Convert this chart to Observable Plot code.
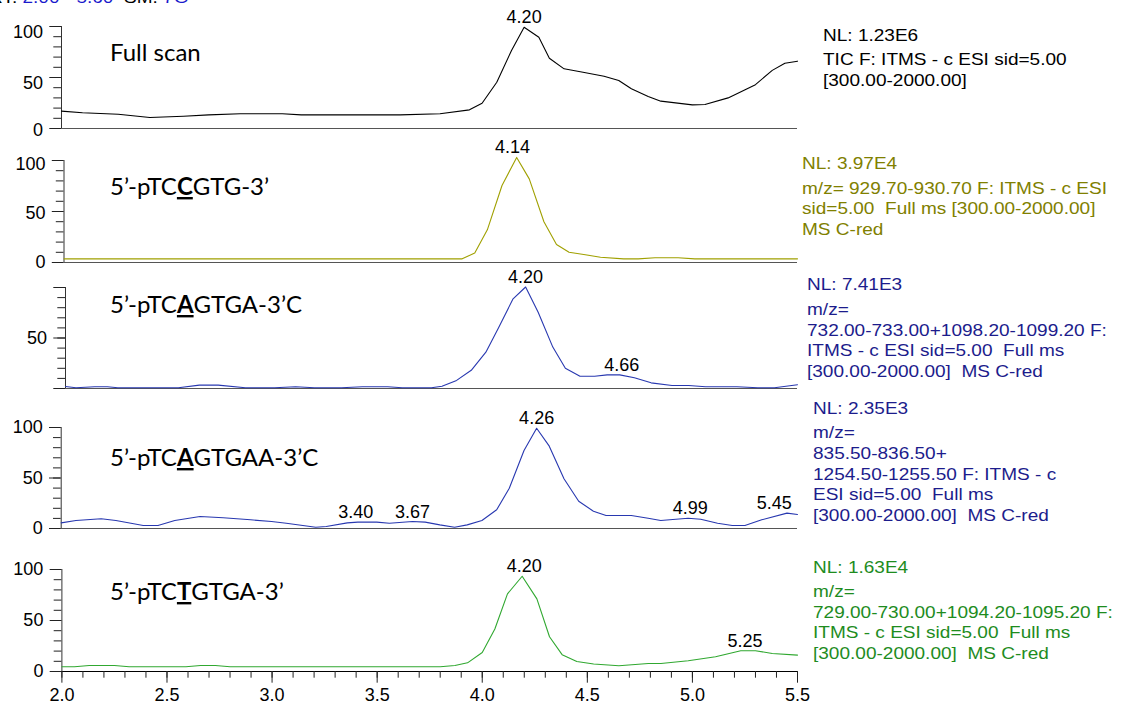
<!DOCTYPE html>
<html><head><meta charset="utf-8">
<script src="https://cdn.jsdelivr.net/npm/d3@7"></script>
<script src="https://cdn.jsdelivr.net/npm/@observablehq/plot@0.6"></script>
<style>
html,body{margin:0;padding:0;background:#fff;overflow:hidden}
#wrap{position:relative;width:1121px;height:707px;overflow:hidden;background:#fff}
#wrap svg{position:absolute;left:0;overflow:visible}
</style></head><body><div id="wrap"></div>
<script>
// ---------- data ----------
const p1Time  = [2.00,2.10,2.27,2.42,2.58,2.70,2.85,3.05,3.14,3.61,3.80,3.94,4.00,4.07,4.14,4.20,4.27,4.32,4.39,4.48,4.58,4.65,4.71,4.79,4.85,5.00,5.06,5.17,5.30,5.38,5.44,5.50];
const p1Value = [17,15.4,14,10.8,12,13.4,14.4,14.4,13.4,13.4,14.4,18.3,24.8,45.4,76.5,99.3,89.5,68.9,58.5,55.2,51.3,47,38.9,31.4,26.8,23.2,23.5,30,43,57,64,66];

const p2Time  = [2.00,3.90,3.96,4.02,4.09,4.16,4.22,4.29,4.35,4.41,4.48,4.56,4.67,4.74,4.82,4.93,5.01,5.50];
const p2Value = [3.6,3.6,9.3,32,75.5,103,82,40,17.6,10.1,7.8,5.2,3.6,3.6,4.6,4.6,3.6,3.6];

const p3Time  = [2.00,2.05,2.14,2.20,2.25,2.54,2.64,2.73,2.86,3.00,3.10,3.19,3.32,3.42,3.54,3.61,3.75,3.80,3.87,3.94,4.01,4.07,4.14,4.20,4.26,4.33,4.39,4.46,4.53,4.59,4.65,4.72,4.80,4.90,4.98,5.06,5.21,5.31,5.39,5.50];
const p3Value = [2.0,0.7,1.7,1.7,0.7,0.7,3.3,3.3,0.7,0.7,1.7,0.7,0.7,1.7,1.7,0.7,0.7,2.2,8,18,36,60,88.8,100.5,75.5,41,20,12.2,12.2,13.5,13.5,10.6,5.6,3,3,1.7,1.7,0.7,0.7,3.7];

const p4Time  = [2.00,2.07,2.19,2.26,2.39,2.46,2.54,2.66,2.77,2.90,3.00,3.07,3.21,3.26,3.36,3.41,3.50,3.56,3.67,3.73,3.80,3.87,3.93,4.00,4.07,4.13,4.20,4.26,4.32,4.39,4.46,4.53,4.59,4.71,4.79,4.85,4.98,5.04,5.12,5.19,5.25,5.33,5.45,5.50];
const p4Value = [5.6,7.9,9.6,7.9,3,3,7.9,11.9,10.6,8.6,6.9,5.2,1.3,2,5.6,6.3,6.3,5.2,6.9,6.3,3.6,1.3,3.6,7.9,18.5,39.9,77.2,99.3,81.5,49.2,27,17.1,12.9,12.9,10.2,7.9,10.2,9.2,5.2,3,3,8.6,15.2,13.9];

const p5Time  = [2.00,2.06,2.13,2.25,2.32,2.59,2.66,2.73,2.80,3.80,3.87,3.93,4.00,4.06,4.12,4.19,4.26,4.32,4.38,4.45,4.53,4.65,4.79,4.85,4.98,5.11,5.23,5.30,5.38,5.50];
const p5Value = [4.6,4.6,5.9,5.9,4.6,4.6,5.9,5.9,4.6,4.6,5.9,8.5,18.7,41.7,76.1,93.4,71.2,34.1,16.5,9.8,7.3,5.6,7.9,7.9,10.5,14.5,20.4,20.4,17.7,16.1];

// peak annotations
const p1PeakX = [4.20], p1PeakY = [99.3], p1PeakText = ["4.20"];
const p2PeakX = [4.14], p2PeakY = [103],  p2PeakText = ["4.14"];
const p3PeakX = [4.20, 4.66], p3PeakY = [100.5, 13.5], p3PeakText = ["4.20", "4.66"];
const p4PeakX = [3.40, 3.67, 4.26, 4.99, 5.39], p4PeakY = [6.3, 6.9, 99.3, 10.2, 15.2], p4PeakText = ["3.40", "3.67", "4.26", "4.99", "5.45"];
const p5PeakX = [4.20, 5.25], p5PeakY = [93.4, 20.4], p5PeakText = ["4.20", "5.25"];

// axis ticks
const yMinorTicks = [0,10,20,30,40,50,60,70,80,90,100];
const yMajorTicks = [0,50,100];
const xMinorTicks = [2.0,2.1,2.2,2.3,2.4,2.5,2.6,2.7,2.8,2.9,3.0,3.1,3.2,3.3,3.4,3.5,3.6,3.7,3.8,3.9,4.0,4.1,4.2,4.3,4.4,4.5,4.6,4.7,4.8,4.9,5.0,5.1,5.2,5.3,5.4,5.5];
const xMajorTicks = [2.0,2.5,3.0,3.5,4.0,4.5,5.0,5.5];
const xTickLabels = ["2.0","2.5","3.0","3.5","4.0","4.5","5.0","5.5"];

// panel texts
const labelPre  = ["Full scan", "5’-pTC", "5’-pTC", "5’-pTC", "5’-pTC"];
const labelKey  = ["", "C", "A", "A", "T"];
const labelPost = ["", "GTG-3’", "GTGA-3’C", "GTGAA-3’C", "GTGA-3’"];

const info1 = ["NL: 1.23E6", "TIC F: ITMS - c ESI sid=5.00", "[300.00-2000.00]"];
const info2 = ["NL: 3.97E4", "m/z= 929.70-930.70 F: ITMS - c ESI", "sid=5.00  Full ms [300.00-2000.00]", "MS C-red"];
const info3 = ["NL: 7.41E3", "m/z=", "732.00-733.00+1098.20-1099.20 F:", "ITMS - c ESI sid=5.00  Full ms", "[300.00-2000.00]  MS C-red"];
const info4 = ["NL: 2.35E3", "m/z=", "835.50-836.50+", "1254.50-1255.50 F: ITMS - c", "ESI sid=5.00  Full ms", "[300.00-2000.00]  MS C-red"];
const info5 = ["NL: 1.63E4", "m/z=", "729.00-730.00+1094.20-1095.20 F:", "ITMS - c ESI sid=5.00  Full ms", "[300.00-2000.00]  MS C-red"];

// ---------- layout / style ----------
const FONT = "'Liberation Sans', Arial, Helvetica, sans-serif";
const panels = [
  {time:p1Time, value:p1Value, px:p1PeakX, py:p1PeakY, pt:p1PeakText, line:"#000000", text:"#000000", axisX:61,   y100:26,  y0:128, yShow:[0,50,100], yOff:[1.3,5.5,5.5], xAxis:false, info:info1, infoX:823, infoY:40.7},
  {time:p2Time, value:p2Value, px:p2PeakX, py:p2PeakY, pt:p2PeakText, line:"#a0a000", text:"#808000", axisX:63.5, y100:160, y0:262, yShow:[0,50,100], yOff:[0,2,4],   xAxis:false, info:info2, infoX:802, infoY:169.3},
  {time:p3Time, value:p3Value, px:p3PeakX, py:p3PeakY, pt:p3PeakText, line:"#2838b0", text:"#1c1c8c", axisX:65,   y100:287, y0:388, yShow:[50],       yOff:[0],       xAxis:false, info:info3, infoX:807, infoY:290.5},
  {time:p4Time, value:p4Value, px:p4PeakX, py:p4PeakY, pt:p4PeakText, line:"#2838b0", text:"#1c1c8c", axisX:60.7, y100:427, y0:528, yShow:[0,50,100], yOff:[0,0,0],   xAxis:false, info:info4, infoX:813, infoY:414},
  {time:p5Time, value:p5Value, px:p5PeakX, py:p5PeakY, pt:p5PeakText, line:"#30a830", text:"#1e8c1e", axisX:61.4, y100:569, y0:671, yShow:[0,50,100], yOff:[0,0,0],   xAxis:true,  info:info5, infoX:813, infoY:572.7}
];
const labelBase = [61, 195, 313, 466, 600];

const wrap = document.getElementById("wrap");
const W = 820, RIGHT = 797;

panels.forEach((p) => {
  const mt = 30, mb = p.xAxis ? 40 : 6;
  const h = mt + (p.y0 - p.y100) + mb;
  const data = p.time.map((t, i) => ({t, v: p.value[i]}));
  const peaks = p.px.map((t, i) => ({t, v: p.py[i], s: p.pt[i]}));
  const marks = [
    Plot.axisY({ticks: yMinorTicks, tickSize: 7.7, tickFormat: () => "", label: null, stroke: "#222"}),
    Plot.axisY({ticks: yMajorTicks, tickSize: 11.7, tickFormat: () => "", label: null, stroke: "#222"}),
    ...p.yShow.map((val, i) => Plot.text([val], {y: d => d, text: d => String(d), frameAnchor: "left", textAnchor: "end", dx: -18.5, dy: p.yOff[i], fontSize: 18, fill: "#000"})),
    Plot.ruleX([2], {y1: 0, y2: 100, stroke: "#333"}),
    Plot.ruleY([0], {x1: 2, x2: 5.5, stroke: p.xAxis ? "#000" : "#555"}),
    Plot.line(data, {x: "t", y: "v", stroke: p.line, strokeWidth: 1.1}),
    Plot.text(peaks, {x: "t", y: "v", text: "s", dy: -4, lineAnchor: "bottom", fontSize: 18, fill: "#000"})
  ];
  if (p.xAxis) {
    marks.push(Plot.axisX({ticks: xMinorTicks, tickSize: 6.7, tickFormat: () => "", label: null, stroke: "#222"}));
    marks.push(Plot.axisX({ticks: xMajorTicks, tickSize: 11.7, tickPadding: 5, tickFormat: (d) => xTickLabels[xMajorTicks.indexOf(d)], label: null, fontSize: 18, stroke: "#222"}));
  }
  const svg = Plot.plot({
    width: W, height: h,
    marginTop: mt, marginBottom: mb, marginLeft: p.axisX, marginRight: W - RIGHT,
    x: p.xAxis ? {domain: [2, 5.5]} : {domain: [2, 5.5], axis: null},
    y: {domain: [0, 100]},
    style: {fontFamily: FONT, fontSize: "18px", background: "transparent", color: "#000", overflow: "visible"},
    marks
  });
  svg.style.top = (p.y100 - mt) + "px";
  wrap.appendChild(svg);
});

// ---------- overlay texts ----------
const ov = d3.select(wrap).append("svg").attr("width", 1121).attr("height", 707).style("top", "0px").style("pointer-events", "none");

// header (cut off at the top edge, as in the original)
const hd = ov.append("g").attr("transform", "translate(-11,3) scale(1.12,1)")
  .append("text").attr("font-family", FONT).attr("font-size", 17).style("white-space", "pre");
hd.append("tspan").attr("fill", "#000").text("RT: ");
hd.append("tspan").attr("fill", "#1a1acc").text("2.00 - 5.60");
hd.append("tspan").attr("fill", "#000").text("  SM: ");
hd.append("tspan").attr("fill", "#1a1acc").text("7G");

// panel names
labelPre.forEach((pre, i) => {
  const t = ov.append("text").attr("x", 110).attr("y", labelBase[i])
    .attr("font-family", "Lato, 'Open Sans', sans-serif").attr("font-size", 24).attr("fill", "#000");
  t.append("tspan").text(pre);
  if (labelKey[i]) {
    t.append("tspan").attr("font-weight", "bold").attr("text-decoration", "underline").text(labelKey[i]);
    t.append("tspan").text(labelPost[i]);
  }
});

// info blocks
panels.forEach((p) => {
  const g = ov.append("g").attr("transform", `translate(${p.infoX},0) scale(1.12,1)`);
  p.info.forEach((line, i) => {
    g.append("text").attr("x", 0).attr("y", p.infoY + (i > 0 ? 24.5 + (i - 1) * 20.6 : 0))
      .attr("font-family", FONT).attr("font-size", 17).attr("fill", p.text)
      .style("white-space", "pre").text(line);
  });
});
</script></body></html>
